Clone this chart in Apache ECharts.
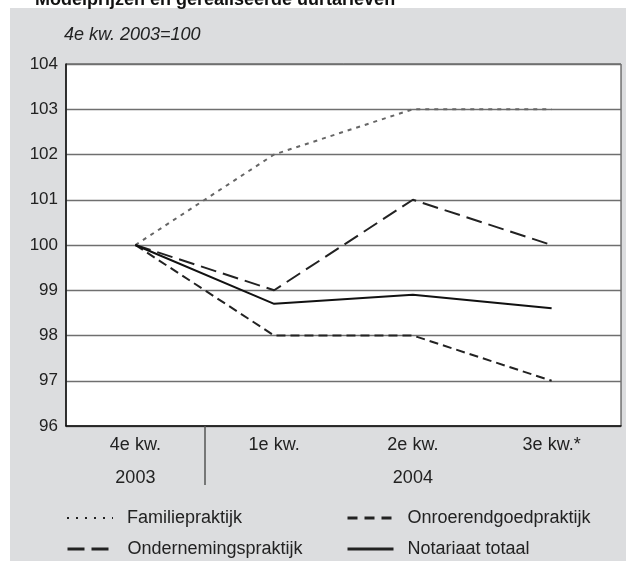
<!DOCTYPE html>
<html>
<head>
<meta charset="utf-8">
<script src="https://cdn.jsdelivr.net/npm/echarts@6/dist/echarts.min.js"></script>
<style>
  html, body { margin: 0; padding: 0; background: #fff; }
  #box { width: 626px; height: 561px; }
</style>
</head>
<body>
<div id="box"></div>
<script>
// kwartalen en jaren onder de as
const quarters = ['4e kw.', '1e kw.', '2e kw.', '3e kw.*'];
const years = ['2003', '', '2004', ''];
// grens tussen 2003 en 2004 (tussen categorie 0 en 1)
const yearBreaks = [0.5];

// index 4e kw. 2003 = 100
const familie = [100, 102, 103, 103];
const onroerendgoed = [100, 98, 98, 97];
const onderneming = [100, 99, 101, 100];
const notariaat = [100, 98.7, 98.9, 98.6];

const font = 'Liberation Sans, Arial, sans-serif';

// één legenda per item, zo staan ze in twee kolommen
function legendItem(name, left, top, dash, width) {
  return {
    left: left,
    top: top,
    itemWidth: 46,
    itemHeight: 16,
    itemStyle: { opacity: 0 },
    textStyle: { fontSize: 18, color: '#222', padding: [0, 0, 0, 9] },
    data: [{ name: name, lineStyle: { type: dash, width: width, color: '#222', opacity: 1 } }]
  };
}

let myecharts = echarts.init(document.getElementById('box'));
let option = {
  animation: false,
  textStyle: { fontFamily: font },
  graphic: [{
    type: 'rect',
    shape: { x: 10, y: 8, width: 616, height: 553 },
    style: { fill: '#dcdddf' },
    z: -10
  }],
  title: [{
    text: 'Modelprijzen en gerealiseerde uurtarieven',
    left: 30,
    top: -14,
    textStyle: { fontSize: 18, fontWeight: 'bold', color: '#111', fontFamily: font }
  }, {
    text: '4e kw. 2003=100',
    left: 59,
    top: 21,
    textStyle: { fontSize: 18, fontStyle: 'italic', fontWeight: 'normal', color: '#222', fontFamily: font }
  }],
  grid: {
    left: 66,
    right: 5,
    top: 64,
    bottom: 135,
    show: true,
    backgroundColor: '#fff',
    borderColor: '#333',
    borderWidth: 1
  },
  legend: [
    legendItem('Familiepraktijk', 61, 504, [2, 7], 2),
    legendItem('Ondernemingspraktijk', 61, 535, [17, 7], 3),
    legendItem('Onroerendgoedpraktijk', 341, 504, [10, 7], 3),
    legendItem('Notariaat totaal', 341, 535, 'solid', 3)
  ],
  xAxis: [{
    type: 'category',
    data: quarters,
    axisLine: { lineStyle: { color: '#111', width: 1.5 } },
    axisTick: { alignWithLabel: true, length: 7, lineStyle: { color: '#888', width: 1.5 } },
    axisLabel: {
      margin: 3,
      fontSize: 18,
      color: '#222',
      lineHeight: 33,
      formatter: function (val, i) {
        return years[i] ? val + '\n' + years[i] : val;
      }
    }
  }, {
    // scheidingslijn tussen de jaren
    type: 'value',
    position: 'bottom',
    min: -0.5,
    max: quarters.length - 0.5,
    axisLine: { show: false },
    axisLabel: { show: false },
    splitLine: { show: false },
    axisTick: {
      show: true,
      length: 59,
      customValues: yearBreaks,
      lineStyle: { color: '#555', width: 1.5 }
    }
  }],
  yAxis: {
    type: 'value',
    min: 96,
    max: 104,
    interval: 1,
    axisLine: { show: true, onZero: false, lineStyle: { color: '#111', width: 1.5 } },
    axisTick: { show: false },
    axisLabel: { fontSize: 17, color: '#222', margin: 8 },
    splitLine: { lineStyle: { color: '#6f6f6f', width: 1.3 } }
  },
  series: [{
    name: 'Familiepraktijk',
    type: 'line',
    data: familie,
    symbol: 'none',
    itemStyle: { color: '#666' },
    lineStyle: { color: '#666', width: 2, type: [4, 5] }
  }, {
    name: 'Onroerendgoedpraktijk',
    type: 'line',
    data: onroerendgoed,
    symbol: 'none',
    itemStyle: { color: '#222' },
    lineStyle: { color: '#222', width: 2, type: [9, 5] }
  }, {
    name: 'Ondernemingspraktijk',
    type: 'line',
    data: onderneming,
    symbol: 'none',
    itemStyle: { color: '#222' },
    lineStyle: { color: '#222', width: 2, type: [16, 7] }
  }, {
    name: 'Notariaat totaal',
    type: 'line',
    data: notariaat,
    symbol: 'none',
    itemStyle: { color: '#111' },
    lineStyle: { color: '#111', width: 2 }
  }]
};
myecharts.setOption(option);
</script>
</body>
</html>
